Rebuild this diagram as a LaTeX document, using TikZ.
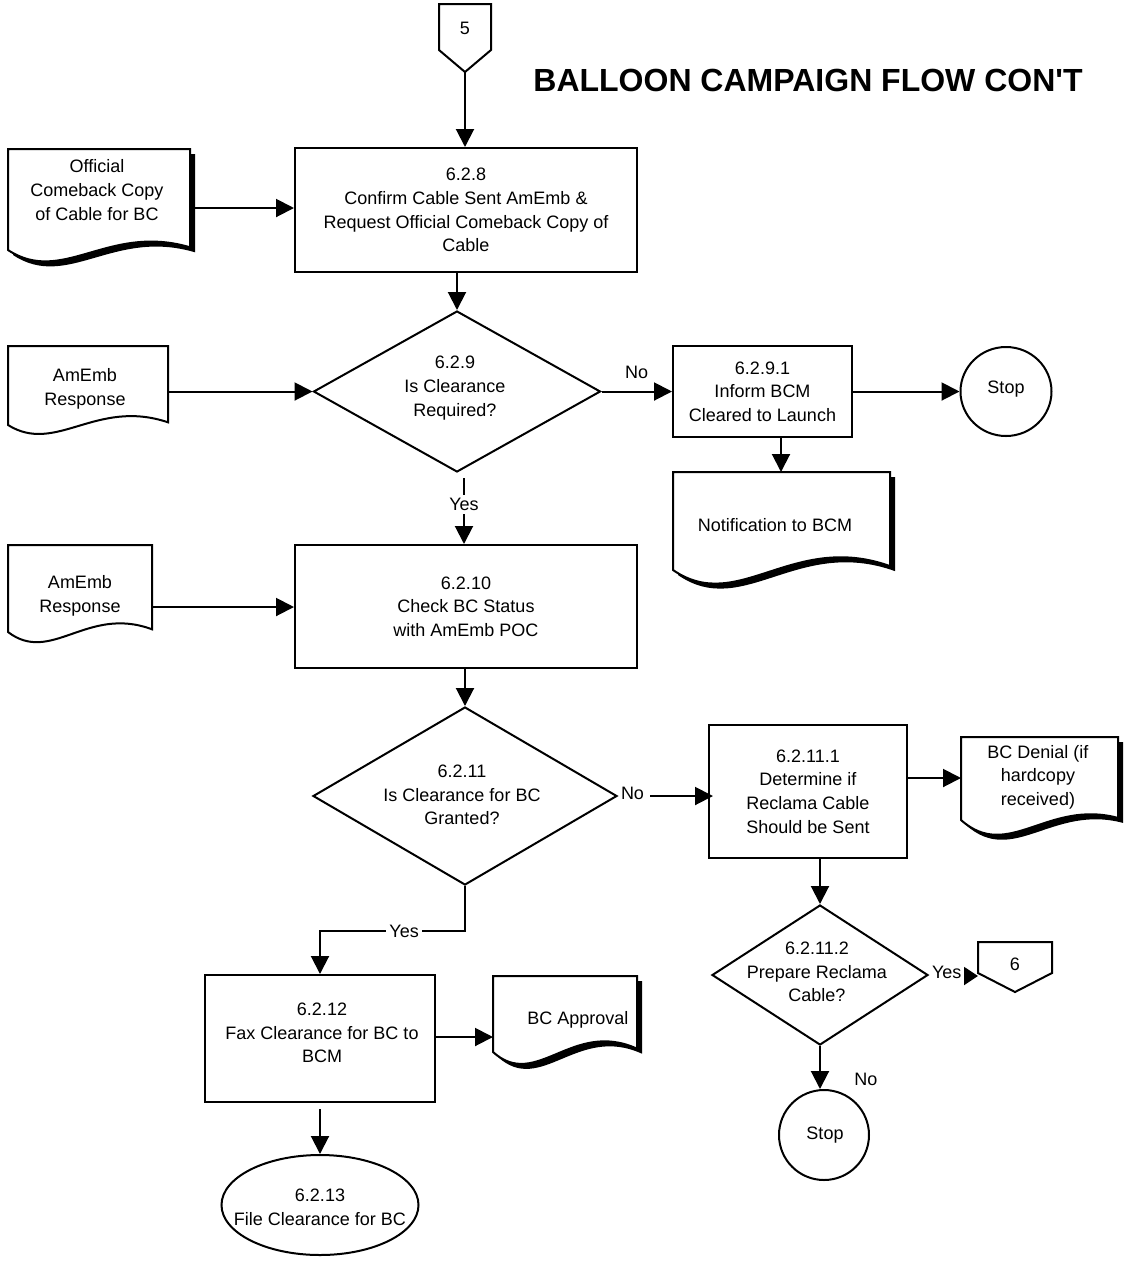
\documentclass[tikz,border=0pt]{standalone}
\usepackage{fontspec}
\setmainfont{Liberation Sans}
\usetikzlibrary{shapes.geometric,arrows.meta}
% x1, y1, x2, yL, dip, rise, shadow
\newcommand\mydoc[7]{%
  \ifnum#7=1
  \fill[shift={(5,5)}] (#1,#2) -- (#3,#2) -- (#3,{#4-0.3*#6}) .. controls ({#1+0.55*(#3-#1)},{#4-3*#6}) and ({#1+0.3*(#3-#1)},{#4+3*#5}) .. (#1,#4) -- cycle;
  \fi
  \draw[fill=white] (#1,#2) -- (#3,#2) -- (#3,{#4-0.3*#6}) .. controls ({#1+0.55*(#3-#1)},{#4-3*#6}) and ({#1+0.3*(#3-#1)},{#4+3*#5}) .. (#1,#4) -- cycle;
}
\begin{document}
\begin{tikzpicture}[x=0.5pt,y=-0.5pt,line width=1pt,
  txt/.style={font=\fontsize{9}{11.8}\selectfont,align=center,inner sep=0pt},
  box/.style={draw,fill=white,txt},
  dia/.style={draw,fill=white,diamond,inner sep=0pt},
  ell/.style={draw,fill=white,ellipse,inner sep=0pt},
  arr/.style={-{Triangle[length=9pt,width=9pt]}},
  lab/.style={txt,fill=white,inner sep=1.5pt}]
\useasboundingbox (0,0) rectangle (1129,1266);

% title
\node[font=\fontsize{16}{18}\selectfont\bfseries,inner sep=0pt] (title) at (808,80) {BALLOON CAMPAIGN FLOW CON\textquotesingle T};

% off-page connector 5
\draw[fill=white] (439,4) -- (491,4) -- (491,50) -- (465,72) -- (439,50) -- cycle;
\node[txt] (c5) at (465,28) {5};
\coordinate (c5b) at (465,72);

% documents
\mydoc{8}{149}{190}{250}{12}{9}{1}
\node[txt] (doc1) at (97,190) {Official\\Comeback Copy\\of Cable for BC};
\coordinate (doc1e) at (190,208);

\mydoc{8}{346}{168}{425}{10}{9}{0}
\node[txt] (am1) at (85,389) {AmEmb\\Response};
\coordinate (am1e) at (168,391.5);

\mydoc{673}{472}{890}{570}{15}{13}{1}
\node[txt] (notif) at (775,525) {Notification to BCM};
\coordinate (ntop) at (781,472);

\mydoc{8}{545}{152}{632}{11}{9}{0}
\node[txt] (am2) at (80,596) {AmEmb\\Response};
\coordinate (am2e) at (152,607);

\mydoc{961}{737}{1118}{820}{14}{7}{1}
\node[txt] (den) at (1038,777) {BC Denial (if\\hardcopy\\received)};
\coordinate (denw) at (961,778);

\mydoc{493}{976}{637}{1052}{13}{11}{1}
\node[txt] (appr) at (578,1020) {BC Approval};
\coordinate (apw) at (493,1037);

% process boxes
\node[box,minimum width=171pt,minimum height=62pt] (b628) at (466,210)
  {6.2.8\\Confirm Cable Sent AmEmb \&\\Request Official Comeback Copy of\\Cable};
\node[box,minimum width=89.5pt,minimum height=45.5pt] (b6291) at (762.5,391.5)
  {6.2.9.1\\Inform BCM\\Cleared to Launch};
\node[box,minimum width=171pt,minimum height=61.5pt] (b6210) at (466,606.5)
  {6.2.10\\Check BC Status\\with AmEmb POC};
\node[box,minimum width=99pt,minimum height=66.5pt] (b62111) at (808,791.5)
  {6.2.11.1\\Determine if\\Reclama Cable\\Should be Sent};
\node[box,minimum width=115pt,minimum height=63.5pt] (b6212) at (320,1038.5) {};
\node[txt] (t6212) at (322,1033) {6.2.12\\Fax Clearance for BC to\\BCM};

% decisions
\node[dia,minimum width=143.5pt,minimum height=80.5pt] (d629) at (457,391.5) {};
\node[txt] (t629) at (455,388) {6.2.9\\Is Clearance\\Required?};
\node[dia,minimum width=152pt,minimum height=89pt] (d6211) at (465,796) {};
\node[txt] (t6211) at (462,795) {6.2.11\\Is Clearance for BC\\Granted?};
\node[dia,minimum width=108pt,minimum height=70pt] (d62112) at (820,975) {};
\node[txt] (t62112) at (817,972) {6.2.11.2\\Prepare Reclama\\Cable?};

% terminators
\node[ell,minimum width=45.5pt,minimum height=44.5pt] (stop1) at (1006,391.5) {};
\node[txt] (ts1) at (1006,389) {Stop};
\node[ell,minimum width=45pt,minimum height=45pt] (stop2) at (824,1135) {};
\node[txt] (ts2) at (825,1135) {Stop};
\node[ell,minimum width=98.5pt,minimum height=50pt] (e6213) at (320,1205) {};
\node[txt] (t6213) at (320,1207) {6.2.13\\File Clearance for BC};

% off-page connector 6
\draw[fill=white] (978,942) -- (1052,942) -- (1052,973) -- (1015,992) -- (978,973) -- cycle;
\node[txt] (c6) at (1015,964) {6};
\coordinate (c6l) at (978,976);

% connectors
\draw[arr] (c5b) -- (c5b |- b628.north);
\draw[arr] (doc1e) -- (doc1e -| b628.west);
\draw[arr] (b628.south -| d629.north) -- (d629.north);
\draw[arr] (am1e) -- (d629.west);
\draw[arr] (d629.east) -- (b6291.west) node[txt,midway,above=6pt] (no1) {No};
\draw[arr] (b6291.east) -- (stop1.west);
\draw[arr] (ntop |- b6291.south) -- (ntop);
\draw[arr] ([shift={(7,5)}]d629.south) -- ([shift={(-2,0)}]b6210.north) node[lab,pos=0.4] (yes1) {Yes};
\draw[arr] (am2e) -- (am2e -| b6210.west);
\draw[arr] (b6210.south -| d6211.north) -- (d6211.north);
\node[txt,anchor=west] (no2) at ([shift={(2,-3)}]d6211.east) {No};
\draw[arr] ([shift={(5,3)}]no2.east) -- ([shift={(5,3)}]no2.east -| b62111.west);
\draw[arr] (denw -| b62111.east) -- (denw);
\draw[arr] (d6211.south) -- ++(0,45) -| (b6212.north) node[lab,pos=0.21] (yes2) {Yes};
\draw[arr] (b6212.east |- apw) -- (apw);
\draw[arr] ([shift={(0,6)}]b6212.south) -- (e6213.north);
\draw[arr] (b62111.south -| d62112.north) -- (d62112.north);
\node[txt,anchor=west] (yes3) at ([shift={(2,-3)}]d62112.east) {Yes};
\draw[-{Triangle[length=7pt,width=9pt]}] ([shift={(3,4)}]yes3.east) -- (c6l);
\draw[arr] (d62112.south) -- (d62112.south |- stop2.north);
\node[txt] (no3) at (866,1079) {No};
\end{tikzpicture}
\end{document}
